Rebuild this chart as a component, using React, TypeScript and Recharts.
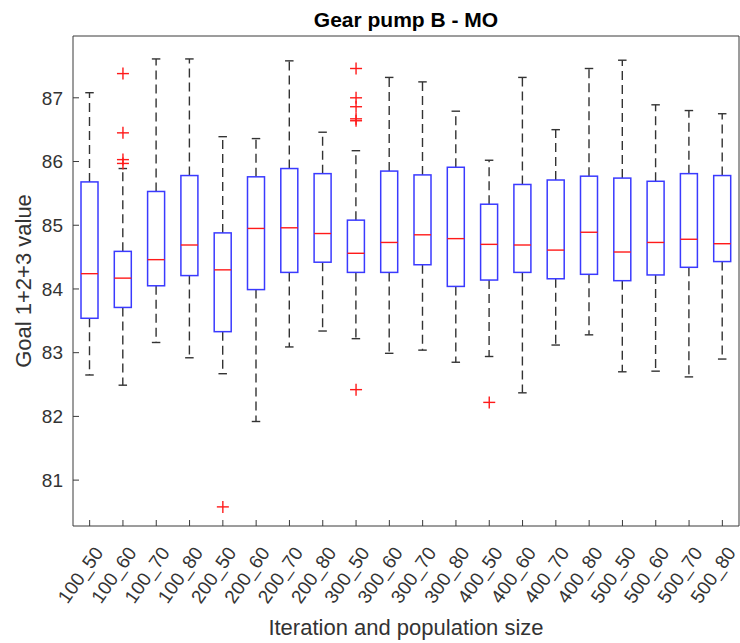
import { ComposedChart, Bar, Scatter, XAxis, YAxis } from "recharts";

const categories = [
  "100_50", "100_60", "100_70", "100_80",
  "200_50", "200_60", "200_70", "200_80",
  "300_50", "300_60", "300_70", "300_80",
  "400_50", "400_60", "400_70", "400_80",
  "500_50", "500_60", "500_70", "500_80",
];
const whiskerLow = [
  82.65, 82.49, 83.16, 82.92, 82.67, 81.92, 83.09, 83.34, 83.22, 82.99,
  83.04, 82.85, 82.94, 82.37, 83.12, 83.28, 82.7, 82.71, 82.62, 82.9,
];
const lowerQuartile = [
  83.54, 83.71, 84.05, 84.21, 83.33, 83.99, 84.26, 84.42, 84.26, 84.26,
  84.38, 84.04, 84.14, 84.26, 84.16, 84.23, 84.13, 84.22, 84.34, 84.43,
];
const median = [
  84.24, 84.17, 84.46, 84.69, 84.3, 84.95, 84.96, 84.87, 84.56, 84.73,
  84.85, 84.79, 84.7, 84.69, 84.61, 84.89, 84.58, 84.73, 84.78, 84.71,
];
const upperQuartile = [
  85.68, 84.59, 85.53, 85.78, 84.88, 85.76, 85.89, 85.81, 85.08, 85.85,
  85.79, 85.91, 85.33, 85.64, 85.71, 85.77, 85.74, 85.69, 85.81, 85.78,
];
const whiskerHigh = [
  87.08, 85.89, 87.61, 87.61, 86.39, 86.36, 87.58, 86.46, 86.17, 87.32,
  87.25, 86.79, 86.02, 87.32, 86.5, 87.46, 87.59, 86.89, 86.8, 86.75,
];
const outliers: number[][] = [
  [], [87.38, 86.45, 86.03, 85.97], [], [],
  [80.58], [], [], [],
  [87.46, 87.0, 86.86, 86.67, 86.64, 82.42], [], [], [],
  [82.22], [], [], [],
  [], [], [], [],
];
const yTicks = [81, 82, 83, 84, 85, 86, 87];
const yDomain = [80.28, 87.97];

const rows = categories.map((name, i) => ({
  name,
  lo: whiskerLow[i],
  q1: lowerQuartile[i],
  med: median[i],
  q3: upperQuartile[i],
  hi: whiskerHigh[i],
}));
const outlierPoints = categories.flatMap((name, i) =>
  outliers[i].map((value) => ({ name, value }))
);

const FONT = "'Liberation Sans', Arial, Helvetica, sans-serif";
const AXIS = "#3a3a3a";
const BLUE = "#3a3aff";
const RED = "#ff1a1a";
const WHISKER = "#333";

function BoxShape(props: any) {
  const { x, y, width, height } = props;
  const d = props.payload ?? props;
  const top = Math.min(y, y + height);
  const bottom = Math.max(y, y + height);
  // linear map between the bar ends (whisker low/high) given by the y scale
  const py = (v: number) => bottom - ((v - d.lo) / (d.hi - d.lo)) * (bottom - top);
  const cx = x + width / 2;
  const cap = width / 4;
  return (
    <g>
      <line x1={cx} x2={cx} y1={py(d.q3)} y2={py(d.hi)} stroke={WHISKER} strokeWidth={1.4} strokeDasharray="9 5" />
      <line x1={cx} x2={cx} y1={py(d.q1)} y2={py(d.lo)} stroke={WHISKER} strokeWidth={1.4} strokeDasharray="9 5" />
      <line x1={cx - cap} x2={cx + cap} y1={py(d.hi)} y2={py(d.hi)} stroke={WHISKER} strokeWidth={1.4} />
      <line x1={cx - cap} x2={cx + cap} y1={py(d.lo)} y2={py(d.lo)} stroke={WHISKER} strokeWidth={1.4} />
      <rect x={x} y={py(d.q3)} width={width} height={py(d.q1) - py(d.q3)} fill="none" stroke={BLUE} strokeWidth={1.5} />
      <line x1={x} x2={x + width} y1={py(d.med)} y2={py(d.med)} stroke={RED} strokeWidth={1.4} />
    </g>
  );
}

function PlusShape(props: any) {
  const { cx, cy } = props;
  if (!Number.isFinite(cx) || !Number.isFinite(cy)) return <g />;
  return (
    <g stroke={RED} strokeWidth={1.4}>
      <line x1={cx - 6} x2={cx + 6} y1={cy} y2={cy} />
      <line x1={cx} x2={cx} y1={cy - 6} y2={cy + 6} />
    </g>
  );
}

function XTick(props: any) {
  const { x, y, payload } = props;
  const ax = x + 9;
  return (
    <text
      x={ax}
      y={y}
      transform={`rotate(-55 ${ax} ${y})`}
      textAnchor="end"
      dominantBaseline="central"
      fontSize={19}
      fontFamily={FONT}
      fill="#333"
    >
      {payload.value}
    </text>
  );
}

export default function App() {
  return (
    <div style={{ position: "absolute", left: 0, top: 0, width: 740, height: 643, background: "#fff" }}>
      <ComposedChart
        width={740}
        height={643}
        data={rows}
        margin={{ top: 35, right: 0, bottom: 0, left: 13 }}
      >
        <XAxis
          dataKey="name"
          type="category"
          allowDuplicatedCategory={false}
          interval={0}
          height={117}
          tickSize={-6}
          tickMargin={29}
          tick={<XTick />}
          axisLine={{ stroke: AXIS }}
          tickLine={{ stroke: AXIS }}
        />
        <XAxis
          xAxisId="top"
          orientation="top"
          type="number"
          domain={[0, categories.length]}
          ticks={categories.map((_, i) => i + 0.5)}
          allowDataOverflow
          height={1}
          tickSize={-6}
          tick={false}
          axisLine={{ stroke: AXIS }}
          tickLine={{ stroke: AXIS }}
        />
        <YAxis
          type="number"
          domain={yDomain}
          ticks={yTicks}
          allowDataOverflow
          width={60}
          tickSize={-6}
          tickMargin={16}
          tick={{ fontSize: 19, fill: "#333", fontFamily: FONT }}
          axisLine={{ stroke: AXIS }}
          tickLine={{ stroke: AXIS }}
        />
        <YAxis
          yAxisId="right"
          orientation="right"
          type="number"
          domain={yDomain}
          ticks={yTicks}
          allowDataOverflow
          width={1}
          tickSize={-6}
          tick={false}
          axisLine={{ stroke: AXIS }}
          tickLine={{ stroke: AXIS }}
        />
        <Bar
          dataKey={(d: any) => [d.lo, d.hi]}
          barSize={17}
          shape={(p: any) => <BoxShape {...p} />}
          isAnimationActive={false}
        />
        <Scatter
          data={outlierPoints}
          dataKey="value"
          shape={(p: any) => <PlusShape {...p} />}
          isAnimationActive={false}
        />
        <text x={406} y={27} textAnchor="middle" fontSize={21} fontWeight="bold" fontFamily={FONT} fill="#000">
          Gear pump B - MO
        </text>
        <text
          transform="translate(31 281) rotate(-90)"
          textAnchor="middle"
          fontSize={22}
          fontFamily={FONT}
          fill="#333"
        >
          Goal 1+2+3 value
        </text>
        <text x={406} y={635} textAnchor="middle" fontSize={22} fontFamily={FONT} fill="#333">
          Iteration and population size
        </text>
      </ComposedChart>
    </div>
  );
}
